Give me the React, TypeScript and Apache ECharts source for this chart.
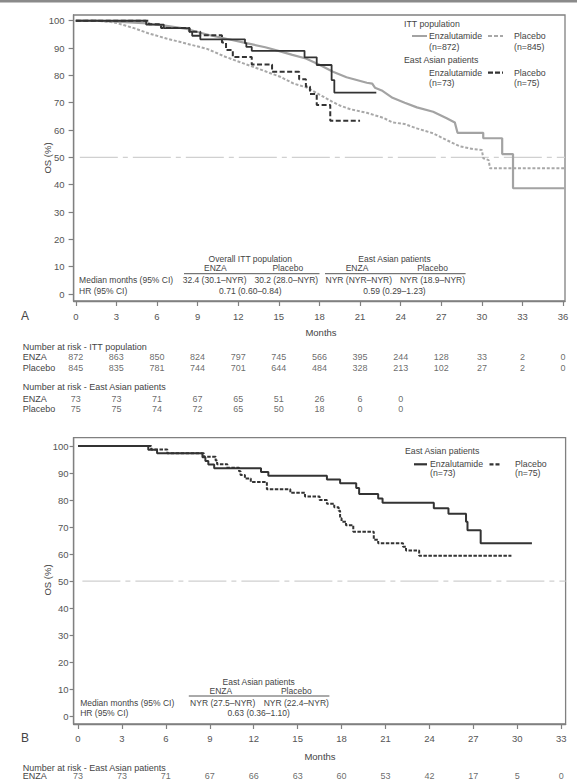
import React, { useEffect, useRef } from 'react';
import * as echarts from 'echarts';

const FONT = '"Liberation Sans", Arial, Helvetica, sans-serif';

// ---------- data ----------
const xTicksA = [0, 3, 6, 9, 12, 15, 18, 21, 24, 27, 30, 33, 36];
const xTicksB = [0, 3, 6, 9, 12, 15, 18, 21, 24, 27, 30, 33];
const yTicks = [0, 10, 20, 30, 40, 50, 60, 70, 80, 90, 100];
const MEDIAN_REF = 50;

// Panel A – ITT population (dense KM curves, explicit drops)
const ittEnzaA: number[][] = [
  [0, 100], [1.5, 100], [3.3, 99.6], [5.3, 99.0], [6.7, 98.1], [8.2, 97.0], [9.2, 95.6], [10.0, 94.6],
  [11.2, 93.3], [12.6, 91.8], [14.0, 90.3], [15.1, 88.8], [16.0, 87.5], [17.0, 86.2], [18.0, 83.9],
  [19.0, 81.3], [20.0, 79.3], [21.5, 77.3], [21.9, 77.0], [22.1, 75.5], [22.6, 74.5], [23.4, 71.8],
  [24.3, 70.0], [25.2, 68.3], [26.4, 66.7], [27.4, 64.3], [28.0, 62.8], [28.2, 59.0], [30.1, 59.0],
  [30.1, 57.0], [31.5, 57.0], [31.5, 51.2], [32.3, 51.2], [32.3, 38.7], [36.1, 38.7],
];
const ittPlacA: number[][] = [
  [0, 100], [1.5, 100], [2.5, 99.6], [3.0, 99.2], [4.3, 97.3], [5.3, 95.5], [6.7, 93.5], [8.2, 91.6],
  [9.7, 89.7], [10.5, 88.0], [11.0, 86.9], [12.6, 84.0], [14.0, 81.5], [15.1, 79.5], [16.1, 77.0],
  [17.1, 75.5], [18.0, 73.0], [18.9, 70.5], [19.5, 69.0], [20.3, 67.6], [21.5, 66.3], [22.7, 64.5],
  [23.4, 62.8], [24.3, 62.2], [25.2, 60.6], [26.4, 58.8], [27.4, 56.3], [28.4, 54.0], [29.4, 53.0],
  [30.0, 52.7], [30.1, 49.7], [30.5, 49.0], [30.6, 46.0], [36.1, 46.0],
];
// Panel A – East Asian patients (step curves)
const eaEnzaA: number[][] = [
  [0, 100], [5.2, 98.6], [6.5, 97.3], [8.4, 95.9], [8.6, 94.5], [9.2, 93.2], [12.5, 91.8], [12.6, 90.4],
  [13.0, 89.0], [16.9, 86.6], [17.8, 83.8], [18.9, 78.3], [19.1, 73.7], [22.2, 73.7],
];
const eaPlacA: number[][] = [
  [0, 100], [5.4, 98.7], [6.3, 97.3], [8.4, 96.0], [9.2, 94.7], [10.8, 92.0], [11.1, 89.3], [11.6, 86.7],
  [13.0, 84.0], [14.5, 81.3], [16.5, 78.6], [17.0, 75.9], [17.3, 73.2], [17.8, 69.2], [18.8, 63.4], [21.0, 63.4],
];
// Panel B – East Asian patients
const eaEnzaB: number[][] = [
  [0, 100], [4.8, 98.6], [5.4, 97.3], [8.5, 95.9], [8.7, 94.5], [8.9, 93.2], [9.3, 91.8], [12.5, 90.4],
  [13.0, 89.0], [17.0, 87.6], [17.9, 86.2], [19.0, 84.5], [19.2, 82.2], [20.5, 80.6], [20.8, 79.0],
  [24.3, 77.0], [25.3, 74.9], [26.5, 72.0], [26.6, 68.8], [27.5, 64.0], [31.0, 64.0],
];
const eaPlacB: number[][] = [
  [0, 100], [5.0, 98.7], [6.1, 97.3], [8.6, 96.0], [9.4, 94.7], [9.5, 93.3], [10.2, 92.0], [11.0, 90.7],
  [11.1, 89.3], [11.4, 88.0], [11.8, 86.7], [12.9, 84.0], [14.5, 82.7], [15.5, 81.3], [16.5, 80.0],
  [17.0, 78.6], [17.5, 77.3], [17.8, 76.0], [17.9, 73.3], [18.0, 72.0], [18.3, 70.7], [18.8, 68.3],
  [20.2, 65.3], [20.5, 64.0], [22.2, 62.7], [22.4, 61.3], [23.3, 59.4], [29.6, 59.4],
];

// Numbers at risk
const riskTimesA = [0, 3, 6, 9, 12, 15, 18, 21, 24, 27, 30, 33, 36];
const riskIttEnza = [872, 863, 850, 824, 797, 745, 566, 395, 244, 128, 33, 2, 0];
const riskIttPlac = [845, 835, 781, 744, 701, 644, 484, 328, 213, 102, 27, 2, 0];
const riskEaEnzaA = [73, 73, 71, 67, 65, 51, 26, 6, 0];
const riskEaPlacA = [75, 75, 74, 72, 65, 50, 18, 0, 0];
const riskTimesB = [0, 3, 6, 9, 12, 15, 18, 21, 24, 27, 30, 33];
const riskEaEnzaB = [73, 73, 71, 67, 66, 63, 60, 53, 42, 17, 5, 0];

// Summary tables
const tableA = {
  groups: ['Overall ITT population', 'East Asian patients'],
  arms: ['ENZA', 'Placebo', 'ENZA', 'Placebo'],
  medians: ['32.4 (30.1–NYR)', '30.2 (28.0–NYR)', 'NYR (NYR–NYR)', 'NYR (18.9–NYR)'],
  hr: ['0.71 (0.60–0.84)', '0.59 (0.29–1.23)'],
};
const tableB = {
  group: 'East Asian patients',
  arms: ['ENZA', 'Placebo'],
  medians: ['NYR (27.5–NYR)', 'NYR (22.4–NYR)'],
  hr: '0.63 (0.36–1.10)',
};

// ---------- layout ----------
const GA = { left: 73.6, top: 15, width: 491.4, height: 286 };
const GB = { left: 73.6, top: 437.7, width: 492, height: 286.3 };
const RISK_A = { top: 330, height: 100 };
const RISK_B = { top: 760, height: 21 };
const rowA = { ittEnza: 26.7, ittPlac: 37.7, eaEnza: 68.7, eaPlac: 79 };
const rowB = { eaEnza: 16.4 };

const TXT = '#444';
const AX = '#808080';

function txt(text: string, x: number, y: number, o: any = {}) {
  return {
    type: 'text',
    x,
    y,
    rotation: o.rotation || 0,
    silent: true,
    style: {
      text,
      x: 0,
      y: 0,
      fill: o.fill || TXT,
      font: `${o.size || 8.5}px ${FONT}`,
      textAlign: o.align || 'left',
      textVerticalAlign: 'middle',
    },
  };
}
function seg(x1: number, x2: number, y: number, stroke: string, w: number, dash?: number[]) {
  return {
    type: 'line',
    silent: true,
    shape: { x1, y1: y, x2, y2: y },
    style: { stroke, lineWidth: w, lineDash: dash || null },
  };
}

function riskData(times: number[], vals: number[], row: number) {
  return vals.map((v, i) => [times[i], row, v]);
}

function axisPair(gi: number, xmin: number, xmax: number, xt: number[], ymin: number, ymax: number, yMargin: number, yTick: number, xMargin: number) {
  const lab = { fontSize: 9.5, color: '#555', fontFamily: FONT };
  return {
    x: {
      type: 'value', gridIndex: gi, min: xmin, max: xmax,
      axisLine: { show: true, onZero: false, lineStyle: { color: AX, width: 1.3 } },
      axisTick: { show: true, customValues: xt, length: 5, lineStyle: { color: AX, width: 1.2 } },
      axisLabel: { show: true, customValues: xt, margin: xMargin, ...lab },
      splitLine: { show: false },
    },
    y: {
      type: 'value', gridIndex: gi, min: ymin, max: ymax,
      axisLine: { show: true, onZero: false, lineStyle: { color: AX, width: 1.3 } },
      axisTick: { show: true, customValues: yTicks, length: yTick, lineStyle: { color: AX, width: 1.2 } },
      axisLabel: { show: true, customValues: yTicks, margin: yMargin, ...lab },
      splitLine: { show: false },
    },
  };
}

export default function App() {
  const ref = useRef<HTMLDivElement>(null);
  useEffect(() => {
    document.body.style.margin = '0';
    if (!ref.current) return;
    const chart = echarts.init(ref.current, undefined, { renderer: 'svg' });
    const a = axisPair(0, -0.16, 36.14, xTicksA, -2.56, 102.1, 9, 5, 10);
    const b = axisPair(1, -0.3, 33.3, xTicksB, -2.96, 103.1, 5, 4, 9.5);

    const line = (xi: number, data: number[][], color: string, width: number, dash: any, step: any, z: number) => ({
      type: 'line', xAxisIndex: xi, yAxisIndex: xi, data, step, symbol: 'none', showSymbol: false,
      lineStyle: { color, width, type: dash }, z, silent: true, animation: false,
    });
    const riskSeries = (xi: number, data: any[]) => ({
      type: 'scatter', xAxisIndex: xi, yAxisIndex: xi, data, symbolSize: 1, silent: true,
      itemStyle: { color: 'rgba(0,0,0,0)' },
      label: {
        show: true, position: 'inside', formatter: (p: any) => String(p.value[2]),
        fontSize: 9, color: TXT, fontFamily: FONT,
      },
    });

    const g: any[] = [];
    g.push({ type: 'rect', shape: { x: 0, y: 0, width: 577, height: 2.5 }, style: { fill: '#8a8a8a' }, silent: true });
    // Panel A legend
    g.push(txt('ITT population', 404, 24, { size: 8.75 }));
    g.push(seg(412, 427, 36, '#a3a3a3', 2));
    g.push(txt('Enzalutamide', 429, 36, { size: 8.75 }));
    g.push(txt('(n=872)', 429, 46.7, { size: 8.75 }));
    g.push(seg(488, 503, 36, '#a8a8a8', 2, [4, 2]));
    g.push(txt('Placebo', 514, 36, { size: 8.75 }));
    g.push(txt('(n=845)', 514, 46.7, { size: 8.75 }));
    g.push(txt('East Asian patients', 404, 60, { size: 8.75 }));
    g.push(txt('Enzalutamide', 429, 72.7, { size: 8.75 }));
    g.push(txt('(n=73)', 429, 83.3, { size: 8.75 }));
    g.push(seg(488, 503, 72.7, '#333', 2.2, [5, 2]));
    g.push(txt('Placebo', 514, 72.7, { size: 8.75 }));
    g.push(txt('(n=75)', 514, 83.3, { size: 8.75 }));
    // Panel A table
    g.push(txt(tableA.groups[0], 250.3, 259.3, { align: 'center' }));
    g.push(txt(tableA.groups[1], 394.5, 259.3, { align: 'center' }));
    [215.3, 287.8, 357, 432.5].forEach((x, i) => g.push(txt(tableA.arms[i], x, 268.3, { align: 'center' })));
    g.push(seg(184, 319.5, 273.7, '#555', 1));
    g.push(seg(325, 465.6, 273.7, '#555', 1));
    g.push(txt('Median months (95% CI)', 79.1, 280.3));
    [214.6, 286.3, 358.8, 432.5].forEach((x, i) => g.push(txt(tableA.medians[i], x, 280.3, { align: 'center' })));
    g.push(txt('HR (95% CI)', 79.1, 290.7));
    g.push(txt(tableA.hr[0], 250.3, 290.7, { align: 'center' }));
    g.push(txt(tableA.hr[1], 394.5, 290.7, { align: 'center' }));
    // Panel A axes titles
    g.push(txt('OS (%)', 47, 158, { align: 'center', size: 9.5, rotation: Math.PI / 2 }));
    g.push(txt('Months', 321, 332, { align: 'center', size: 9.5 }));
    g.push(txt('A', 25, 316, { align: 'center', size: 12 }));
    // Panel A risk labels
    g.push(txt('Number at risk - ITT population', 22.8, 346.7, { size: 9 }));
    g.push(txt('ENZA', 22.8, 356.7, { size: 9 }));
    g.push(txt('Placebo', 22.8, 367.7, { size: 9 }));
    g.push(txt('Number at risk - East Asian patients', 22.8, 387.3, { size: 9 }));
    g.push(txt('ENZA', 22.8, 398.7, { size: 9 }));
    g.push(txt('Placebo', 22.8, 409, { size: 9 }));

    // Panel B legend
    g.push(txt('East Asian patients', 405, 451, { size: 8.75 }));
    g.push(seg(414, 427, 464.3, '#333', 2.2));
    g.push(txt('Enzalutamide', 430, 464.3, { size: 8.75 }));
    g.push(txt('(n=73)', 430, 473.3, { size: 8.75 }));
    g.push(seg(489.5, 501.3, 464.3, '#333', 2.2, [4, 2]));
    g.push(txt('Placebo', 515, 464.3, { size: 8.75 }));
    g.push(txt('(n=75)', 515, 473.3, { size: 8.75 }));
    // Panel B table
    g.push(txt(tableB.group, 258.7, 681.7, { align: 'center' }));
    g.push(txt(tableB.arms[0], 220.8, 690.5, { align: 'center' }));
    g.push(txt(tableB.arms[1], 296.3, 690.5, { align: 'center' }));
    g.push(seg(188.8, 329.4, 696, '#555', 1));
    g.push(txt('Median months (95% CI)', 80.2, 702.7));
    g.push(txt(tableB.medians[0], 222.7, 702.7, { align: 'center' }));
    g.push(txt(tableB.medians[1], 296.3, 702.7, { align: 'center' }));
    g.push(txt('HR (95% CI)', 80.2, 713.3));
    g.push(txt(tableB.hr, 258.7, 713.3, { align: 'center' }));
    g.push(txt('OS (%)', 47, 580, { align: 'center', size: 9.5, rotation: Math.PI / 2 }));
    g.push(txt('Months', 320, 756.7, { align: 'center', size: 9.5 }));
    g.push(txt('B', 25, 738, { align: 'center', size: 12 }));
    g.push(txt('Number at risk - East Asian patients', 22.8, 767.5, { size: 9 }));
    g.push(txt('ENZA', 22.8, 776.4, { size: 9 }));

    const option: any = {
      animation: false,
      backgroundColor: '#fff',
      textStyle: { fontFamily: FONT },
      grid: [
        { ...GA, show: true, borderColor: AX, borderWidth: 1.3, backgroundColor: 'transparent', containLabel: false },
        { ...GB, show: true, borderColor: AX, borderWidth: 1.3, backgroundColor: 'transparent', containLabel: false },
        { left: GA.left, width: GA.width, top: RISK_A.top, height: RISK_A.height },
        { left: GB.left, width: GB.width, top: RISK_B.top, height: RISK_B.height },
      ],
      xAxis: [
        a.x, b.x,
        { type: 'value', gridIndex: 2, min: -0.16, max: 36.14, show: false },
        { type: 'value', gridIndex: 3, min: -0.3, max: 33.3, show: false },
      ],
      yAxis: [
        a.y, b.y,
        { type: 'value', gridIndex: 2, min: 0, max: RISK_A.height, inverse: true, show: false },
        { type: 'value', gridIndex: 3, min: 0, max: RISK_B.height, inverse: true, show: false },
      ],
      series: [
        line(0, [[0.3, MEDIAN_REF], [36.14, MEDIAN_REF]], '#d0d0d0', 1.3, [38, 5, 5, 5], false, 1),
        line(0, ittPlacA, '#a8a8a8', 2, [3, 1.8], false, 2),
        line(0, ittEnzaA, '#a3a3a3', 2.2, 'solid', false, 3),
        line(0, eaPlacA, '#333', 2, [5, 2.5], 'end', 4),
        line(0, eaEnzaA, '#333', 1.8, 'solid', 'end', 5),
        line(1, [[0.3, MEDIAN_REF], [33.3, MEDIAN_REF]], '#d0d0d0', 1.3, [38, 5, 5, 5], false, 1),
        line(1, eaPlacB, '#333', 2, [3.5, 1.5], 'end', 4),
        line(1, eaEnzaB, '#333', 2, 'solid', 'end', 5),
        riskSeries(2, [
          ...riskData(riskTimesA, riskIttEnza, rowA.ittEnza),
          ...riskData(riskTimesA, riskIttPlac, rowA.ittPlac),
          ...riskData(riskTimesA, riskEaEnzaA, rowA.eaEnza),
          ...riskData(riskTimesA, riskEaPlacA, rowA.eaPlac),
        ]),
        riskSeries(3, riskData(riskTimesB, riskEaEnzaB, rowB.eaEnza)),
      ],
      graphic: g,
    };
    chart.setOption(option);
    return () => chart.dispose();
  }, []);
  return <div ref={ref} style={{ width: 577, height: 781, position: 'absolute', left: 0, top: 0 }} />;
}
